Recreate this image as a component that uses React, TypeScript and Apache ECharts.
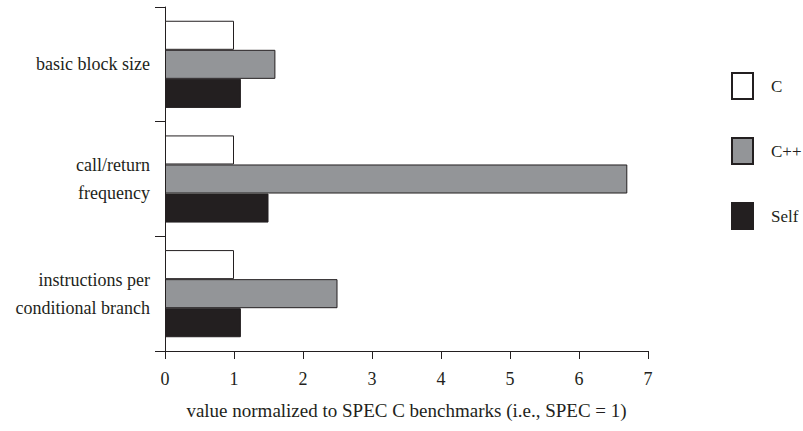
import React, { useEffect, useRef } from "react";
import * as echarts from "echarts";

const categories = [
  "basic block size",
  "call/return\nfrequency",
  "instructions per\nconditional branch",
];
const seriesNames = ["C", "C++", "Self"];
const cValues = [1, 1, 1];
const cppValues = [1.6, 6.7, 2.5];
const selfValues = [1.1, 1.5, 1.1];
const xTicks = [0, 1, 2, 3, 4, 5, 6, 7];
const xAxisTitle = "value normalized to SPEC C benchmarks (i.e., SPEC = 1)";

const FONT = "'Liberation Serif', 'Times New Roman', serif";
const INK = "#231f20";

export default function App() {
  const ref = useRef<HTMLDivElement>(null);
  useEffect(() => {
    if (!ref.current) return;
    const chart = echarts.init(ref.current, null, { renderer: "svg" });
    const colors = ["#ffffff", "#939598", "#231f20"];
    const data = [cValues, cppValues, selfValues];
    chart.setOption({
      animation: false,
      backgroundColor: "#ffffff",
      textStyle: { fontFamily: FONT, color: INK },
      grid: { left: 165, right: 155, top: 7, bottom: 80, containLabel: false },
      legend: {
        orient: "vertical",
        left: 726,
        top: 67,
        itemWidth: 21,
        itemHeight: 26,
        itemGap: 37,
        icon: "rect",
        selectedMode: false,
        data: seriesNames,
        textStyle: { fontFamily: FONT, fontSize: 17, color: INK, padding: [0, 0, 0, 13] },
      },
      xAxis: {
        type: "value",
        min: xTicks[0],
        max: xTicks[xTicks.length - 1],
        interval: 1,
        splitLine: { show: false },
        axisLine: { show: true, lineStyle: { color: INK, width: 1 } },
        axisTick: { show: true, length: 8, lineStyle: { color: INK } },
        axisLabel: { fontFamily: FONT, fontSize: 18, color: INK, margin: 19 },
        name: xAxisTitle,
        nameLocation: "middle",
        nameGap: 50,
        nameTextStyle: { fontFamily: FONT, fontSize: 19, color: INK },
      },
      yAxis: {
        type: "category",
        inverse: true,
        data: categories,
        axisLine: { show: true, lineStyle: { color: INK, width: 1 } },
        axisTick: { show: true, length: 10, lineStyle: { color: INK } },
        axisLabel: {
          fontFamily: FONT,
          fontSize: 18,
          color: INK,
          margin: 15,
          lineHeight: 28,
          align: "right",
        },
      },
      series: seriesNames.map((name, i) => ({
        name,
        type: "bar",
        data: data[i],
        barGap: "0%",
        barCategoryGap: "24%",
        itemStyle: { color: colors[i], borderColor: INK, borderWidth: 1 },
      })),
    });
    return () => chart.dispose();
  }, []);
  return <div ref={ref} style={{ width: 803, height: 431, position: "absolute", left: 0, top: 0 }} />;
}
